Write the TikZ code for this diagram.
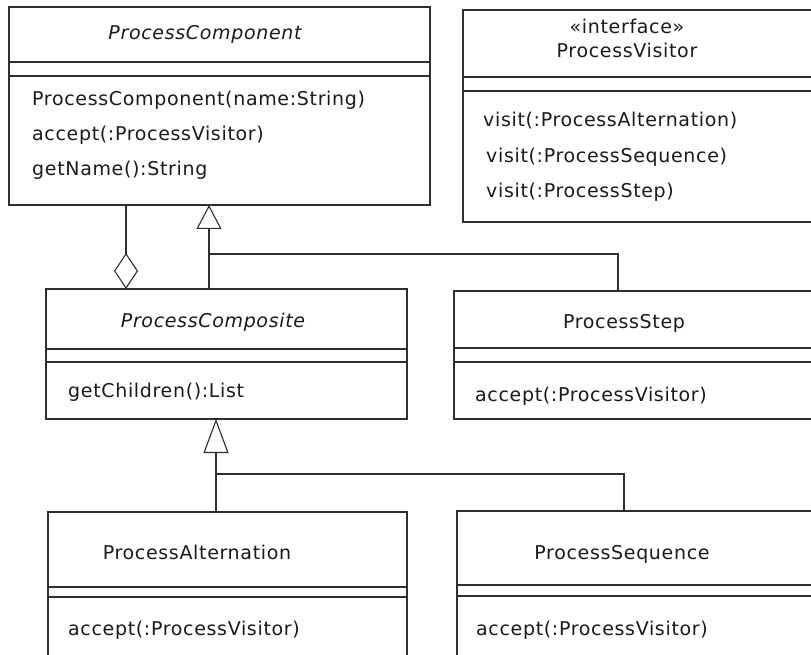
\documentclass[tikz,border=0pt]{standalone}
\usepackage{fontspec}
\newfontfamily\umlfont{DejaVu Sans}[LetterSpace=3.5]
\usetikzlibrary{arrows.meta}
\definecolor{ink}{HTML}{1A1A1A}
\definecolor{edge}{HTML}{2E2E2E}
\tikzset{
  box/.style={draw=edge, line width=1.1pt, rectangle, inner sep=0pt, outer sep=0pt, anchor=north west},
  lbl/.style={inner sep=0pt, text=ink, font=\umlfont\fontsize{19}{22}\selectfont},
  ttl/.style={lbl, anchor=base},
  mth/.style={lbl, anchor=base west},
  conn/.style={draw=edge, line width=1.1pt},
  gen/.style={conn, -{Triangle[open, length=#1, width=25pt]}},
  agg/.style={conn, -{Diamond[open, length=36pt, width=24pt]}}
}
\begin{document}
\begin{tikzpicture}[x=1pt, y=-1pt]
\clip (0,0) rectangle (811,655);
\fill[white] (0,0) rectangle (811,655);

% class boxes
\node[box, minimum width=421pt, minimum height=198pt] (pc) at (9,7) {};
\node[box, minimum width=370pt, minimum height=212pt] (pv) at (463,10) {};
\node[box, minimum width=361pt, minimum height=130pt] (pco) at (46,289) {};
\node[box, minimum width=380pt, minimum height=128pt] (ps) at (454,291) {};
\node[box, minimum width=359pt, minimum height=160pt] (pa) at (48,512) {};
\node[box, minimum width=380pt, minimum height=160pt] (pseq) at (457,511) {};

% compartment separators
\foreach \n/\a/\b in {pc/55/69, pv/67/81, pco/60/73, ps/57/71, pa/75/85, pseq/74/85}{
  \draw[conn] ([yshift=-\a pt]\n.north west) -- ([yshift=-\a pt]\n.north east);
  \draw[conn] ([yshift=-\b pt]\n.north west) -- ([yshift=-\b pt]\n.north east);
}

% texts
\node[ttl] (pct) at (205,40) {\itshape ProcessComponent};
\node[mth] (pcm1) at (32,106) {ProcessComponent(name:String)};
\node[mth] (pcm2) at (32,141) {accept(:ProcessVisitor)};
\node[mth] (pcm3) at (32,176) {getName():String};

\node[ttl] (pvs) at (627,34) {«interface»};
\node[ttl] (pvt) at (627,58) {ProcessVisitor};
\node[mth] (pvm1) at (483,127) {visit(:ProcessAlternation)};
\node[mth] (pvm2) at (486,163) {visit(:ProcessSequence)};
\node[mth] (pvm3) at (486,197) {visit(:ProcessStep)};

\node[ttl] (pcot) at (213,327) {\itshape ProcessComposite};
\node[mth] (pcom1) at (68,397) {getChildren():List};

\node[ttl] (pst) at (624,328) {ProcessStep};
\node[mth] (psm1) at (475,401) {accept(:ProcessVisitor)};

\node[ttl] (pat) at (197,559) {ProcessAlternation};
\node[mth] (pam1) at (68,635) {accept(:ProcessVisitor)};

\node[ttl] (pseqt) at (622,559) {ProcessSequence};
\node[mth] (pseqm1) at (476,635) {accept(:ProcessVisitor)};

% junctions
\coordinate (j1) at (209,254);
\coordinate (j2) at (216,474);

% connectors
\draw[agg] ([xshift=117pt]pc.south west) -- ([xshift=80pt]pco.north west);
\draw[gen=24pt] ([xshift=163pt]pco.north west) -- ([xshift=200pt]pc.south west);
\draw[conn] ([xshift=164pt]ps.north west) |- (j1);
\draw[gen=34pt] ([xshift=168pt]pa.north west) -- ([xshift=170pt]pco.south west);
\draw[conn] ([xshift=167pt]pseq.north west) |- (j2);
\end{tikzpicture}
\end{document}
